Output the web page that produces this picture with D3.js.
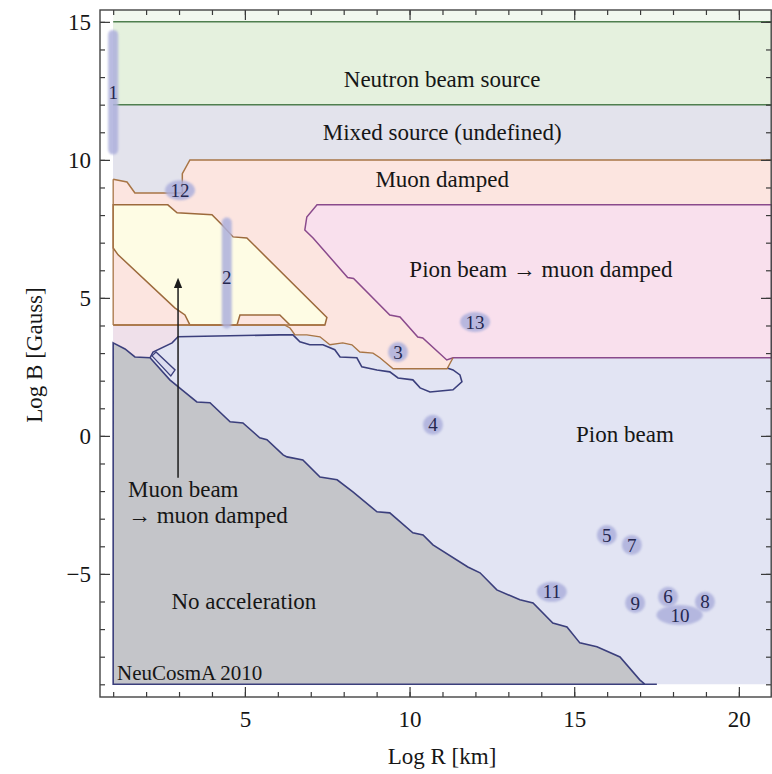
<!DOCTYPE html>
<html lang="en">
<head>
<meta charset="utf-8">
<title>NeuCosmA source classification (Log R vs Log B)</title>
<style>
  body { margin: 0; background: #fff; }
  text { font-family: "Liberation Serif", "Times New Roman", serif; fill: #161616; }
</style>
</head>
<body>

<svg id="chart" width="772" height="774"></svg>

<script src="https://d3js.org/d3.v7.min.js"></script>
<script>

//DATA (Log R [km], Log B [Gauss])
var xTicks = [5, 10, 15, 20];
var yTicks = [-5, 0, 5, 10, 15];
var xMinor = d3.range(1, 22);
var yMinor = d3.range(-9, 16);

//lower edge of the neutron band / plot limits
var neutronLow = 12;
var plotTop = 15;
var plotBottom = -9;
var plotLeft = 1;
var plotRight = 21;

//top edge of the muon damped region (left to right)
var muonTopEdge = [[1, 9.3], [1.42, 9.2], [1.66, 8.8], [2.48, 8.8], [3.1, 8.8], [3.1, 9.5], [3.33, 10], [21, 10]];
//lower edge of the muon damped region (right to left)
var muonBottomEdge = [[21, 2.83], [11.32, 2.83], [11.14, 2.43], [9.5, 2.43], [9.1, 2.83], [8.89, 3.0], [8.49, 3.04],
  [8.25, 3.3], [7.97, 3.37], [7.58, 3.3], [7.28, 3.59], [6.88, 3.66], [6.52, 3.66], [6.37, 3.91], [6.2, 4.02], [1, 4.02]];

//pion beam -> muon damped region
var pionMuonEdge = [[7.19, 8.37], [21, 8.37], [21, 2.83], [11.32, 2.83], [11.13, 2.75], [10.4, 3.55], [10.25, 3.58],
  [9.71, 4.31], [9.4, 4.38], [8.3, 5.7], [8.12, 5.74], [7.07, 7.17], [6.82, 7.46], [6.88, 7.93]];

//muon beam -> muon damped region
var muonBeamEdge = [[1, 8.37], [2.66, 8.37], [2.94, 8.08], [4.0, 8.01], [4.31, 7.64], [4.64, 7.21], [5.06, 7.17],
  [7.49, 4.29], [7.43, 4.02], [6.37, 4.02], [6.06, 4.38], [4.85, 4.38], [4.76, 4.02], [3.33, 4.02], [3.18, 4.38],
  [2.87, 4.64], [1.15, 6.56], [1, 6.81]];

//small pinkish patch left of the arrow
var leftPatchEdge = [[1, 4.02], [2.97, 4.02], [2.97, 3.59], [2.79, 3.37], [2.21, 3.04], [2.12, 2.83], [1.66, 2.86],
  [1.36, 3.15], [1, 3.37]];

//upper edge of the pion beam region (navy line)
var pionTopEdge = [[2.12, 2.83], [2.21, 3.04], [2.79, 3.37], [2.97, 3.59], [6.06, 3.66], [6.46, 3.66], [6.67, 3.41],
  [6.97, 3.3], [7.37, 3.3], [7.73, 3.12], [7.89, 2.86], [8.4, 2.83], [8.55, 2.5], [9.01, 2.39], [9.4, 2.32],
  [9.65, 2.1], [10.1, 2.03], [10.32, 1.74], [10.62, 1.59], [11.32, 1.67], [11.59, 1.96], [11.53, 2.21],
  [11.32, 2.39], [11.14, 2.46]];
var pionSliver = [[2.18, 2.9], [2.3, 3.04], [2.88, 2.39], [2.75, 2.17]];

//no acceleration boundary (staircase)
var noAccelEdge = [[1, 3.37], [1.36, 3.15], [1.66, 2.86], [2.12, 2.83], [2.72, 2.03], [3.09, 1.67], [3.54, 1.23],
  [3.94, 1.2], [4.55, 0.51], [4.94, 0.47], [5.45, -0.07], [5.67, -0.14], [6.16, -0.69], [6.28, -0.76], [6.76, -0.87],
  [7.28, -1.49], [7.8, -1.59], [8.28, -2.03], [9.01, -2.75], [9.4, -2.79], [10.1, -3.51], [10.41, -3.59],
  [10.71, -3.95], [11.77, -4.75], [12.14, -4.96], [12.65, -5.58], [13.35, -5.94], [13.75, -6.05], [14.35, -6.78],
  [14.78, -6.92], [15.17, -7.5], [15.69, -7.64], [16.39, -8.01], [16.99, -8.84], [17.15, -9], [17.51, -9]];

//sources: label, Log R range, Log B range, where the number sits
var srcLabel = ["1", "2", "3", "4", "5", "6", "7", "8", "9", "10", "11", "12", "13"];
var srcR0 = [1.0, 4.45, 9.65, 10.71, 15.99, 17.85, 16.75, 18.97, 16.85, 17.95, 14.32, 3.03, 11.99];
var srcR1 = [1.0, 4.45, 9.65, 10.71, 15.99, 17.85, 16.75, 18.97, 16.85, 18.45, 14.32, 3.03, 11.99];
var srcB0 = [10.3, 4.0, 3.04, 0.4, -3.59, -5.83, -3.95, -6.01, -6.05, -6.49, -5.65, 8.9, 4.13];
var srcB1 = [14.6, 7.8, 3.04, 0.4, -3.59, -5.83, -3.95, -6.01, -6.05, -6.49, -5.65, 8.9, 4.13];
var srcTextR = [1.0, 4.45, 9.65, 10.71, 15.99, 17.85, 16.75, 18.97, 16.85, 18.21, 14.32, 3.03, 11.99];
var srcTextB = [12.43, 5.76, 3.04, 0.4, -3.59, -5.83, -3.95, -6.01, -6.05, -6.49, -5.65, 8.9, 4.13];

//region names
var regionText = ["Neutron beam source", "Mixed source (undefined)", "Muon damped", "Pion beam \u2192 muon damped",
  "Pion beam", "Muon beam", "\u2192 muon damped", "No acceleration"];
var regionR = [10.99, 10.99, 10.99, 13.99, 16.54, 1.45, 1.45, 4.97];
var regionB = [12.64, 10.72, 9.02, 5.76, -0.22, -2.21, -3.16, -6.27];
var regionAnchor = ["middle", "middle", "middle", "middle", "middle", "start", "start", "middle"];

//arrow from the muon beam label up into its region
var arrowR = 2.97;
var arrowB = [-1.52, 5.54];

//COLOURS
var C_PION = "#e2e4f3", C_NEUTRON = "#e5f1de", C_MIXED = "#e3e3ec", C_MUON = "#fce5e0";
var C_PIONMU = "#f9e0ed", C_YELLOW = "#fefce4", C_GRAY = "#c4c5c9", C_PATCH = "#efe0ea";
var L_GREEN = "#4f7f4f", L_BROWN = "#a87545", L_PURPLE = "#8a4a8c", L_NAVY = "#3b3f7c";

//SCALES (frame covers a little padding round the data)
var svg = d3.select("#chart");
var x = d3.scaleLinear().domain([0.6, 21]).range([100, 771.8]);
var y = d3.scaleLinear().domain([-9.46, 15.43]).range([697, 10]);

var line = d3.line().x(function (d) { return x(d[0]); }).y(function (d) { return y(d[1]); });
var ring = function (pts) { return line(pts) + "Z"; };

var defs = svg.append("defs");
defs.append("filter").attr("id", "soft").attr("x", "-50%").attr("y", "-50%").attr("width", "200%").attr("height", "200%")
  .append("feGaussianBlur").attr("stdDeviation", 1.3);
defs.append("marker").attr("id", "head").attr("viewBox", "0 0 10 10").attr("refX", 5).attr("refY", 5)
  .attr("markerWidth", 7).attr("markerHeight", 9).attr("orient", "auto")
  .append("path").attr("d", "M0,1 L10,5 L0,9 Z").attr("fill", "#1c1c1c");

//REGIONS
var box = function (r0, r1, b0, b1) { return [[r0, b0], [r1, b0], [r1, b1], [r0, b1]]; };

svg.append("path").attr("d", ring(box(plotLeft, plotRight, plotBottom, plotTop))).attr("fill", C_PION);
svg.append("path").attr("d", ring(box(plotLeft, plotRight, plotTop, 15.43))).attr("fill", "#f2f8ef");
svg.append("path").attr("d", ring(box(plotLeft, plotRight, neutronLow, plotTop))).attr("fill", C_NEUTRON);
svg.append("path").attr("d", ring(box(plotLeft, plotRight, 4, neutronLow))).attr("fill", C_MIXED);
svg.append("path").attr("d", ring(muonTopEdge.concat(muonBottomEdge))).attr("fill", C_MUON);
svg.append("path").attr("d", ring(leftPatchEdge)).attr("fill", C_PATCH);
svg.append("path").attr("d", ring(pionMuonEdge)).attr("fill", C_PIONMU)
  .attr("stroke", L_PURPLE).attr("stroke-width", 1.5);
svg.append("path").attr("d", ring(muonBeamEdge)).attr("fill", C_YELLOW)
  .attr("stroke", "#9c6a3c").attr("stroke-width", 1.5);
svg.append("path").attr("d", ring(noAccelEdge.concat([[plotLeft, plotBottom]]))).attr("fill", C_GRAY)
  .attr("stroke", L_NAVY).attr("stroke-width", 1.6);

//boundary lines
svg.append("path").attr("d", line(pionTopEdge)).attr("fill", "none").attr("stroke", L_NAVY).attr("stroke-width", 1.6);
svg.append("path").attr("d", ring(pionSliver)).attr("fill", "#dcdcef").attr("stroke", L_NAVY).attr("stroke-width", 1.3);
svg.append("path").attr("d", line(muonTopEdge)).attr("fill", "none").attr("stroke", L_BROWN).attr("stroke-width", 1.5);
svg.append("path").attr("d", line(muonBottomEdge.slice(1))).attr("fill", "none").attr("stroke", L_BROWN).attr("stroke-width", 1.4);
svg.append("path").attr("d", line([[plotLeft, 4.02], [7.43, 4.02]])).attr("fill", "none").attr("stroke", L_BROWN).attr("stroke-width", 1.4);
svg.append("path").attr("d", line([[plotLeft, 9.3], [plotLeft, 4.02]])).attr("fill", "none").attr("stroke", L_BROWN).attr("stroke-width", 1.3);
svg.append("path").attr("d", line([[plotLeft, neutronLow], [plotRight, neutronLow]])).attr("stroke", L_GREEN).attr("stroke-width", 1.5);
svg.append("path").attr("d", line([[plotLeft, plotTop], [plotRight, plotTop]])).attr("stroke", L_GREEN).attr("stroke-width", 1.5);

//arrow
svg.append("line")
  .attr("x1", x(arrowR)).attr("y1", y(arrowB[0]))
  .attr("x2", x(arrowR)).attr("y2", y(arrowB[1]))
  .attr("stroke", "#1c1c1c").attr("stroke-width", 1.5).attr("marker-end", "url(#head)");

//SOURCES
srcLabel.forEach(function (lab, i) {
  var cx = x((srcR0[i] + srcR1[i]) / 2), cy = y((srcB0[i] + srcB1[i]) / 2);
  var halfW = (x(srcR1[i]) - x(srcR0[i])) / 2, halfH = (y(srcB0[i]) - y(srcB1[i])) / 2;
  var rx, ry;
  if (halfH > 20) { rx = 5; ry = halfH + 3; }          //vertical range bar
  else { rx = halfW + 5 + 5 * lab.length; ry = 10 + halfH; }
  svg.append("rect").attr("x", cx - rx).attr("y", cy - ry).attr("width", 2 * rx).attr("height", 2 * ry)
    .attr("rx", rx).attr("ry", Math.min(rx, ry))
    .attr("fill", "#adb0dc").attr("opacity", 0.85).attr("filter", "url(#soft)");
  svg.append("text").attr("x", x(srcTextR[i])).attr("y", y(srcTextB[i])).attr("dy", "0.35em")
    .attr("text-anchor", "middle").style("font-size", "19px").style("fill", "#25274f").text(lab);
});

//REGION NAMES
regionText.forEach(function (t, i) {
  svg.append("text").attr("x", x(regionR[i])).attr("y", y(regionB[i]))
    .attr("text-anchor", regionAnchor[i]).style("font-size", "23px").text(t);
});
svg.append("text").attr("x", x(1.12)).attr("y", y(-8.84)).style("font-size", "21px").text("NeuCosmA 2010");

//FRAME AND TICKS (ticks point inward on all four sides)
function strip(g) { g.select(".domain").remove(); g.selectAll("line").attr("stroke", "#3a3a3a").attr("stroke-width", 1.2); }

svg.append("g").attr("transform", "translate(0,697)")
  .call(d3.axisBottom(x).tickValues(xMinor).tickSize(-5).tickFormat("")).call(strip);
svg.append("g").attr("transform", "translate(0,697)")
  .call(d3.axisBottom(x).tickValues(xTicks).tickSize(-10).tickPadding(14)).call(strip)
  .selectAll("text").style("font-size", "23px").style("font-family", "Liberation Serif").attr("fill", "#1c1c1c");
svg.append("g").attr("transform", "translate(0,10)")
  .call(d3.axisTop(x).tickValues(xMinor).tickSize(-5).tickFormat("")).call(strip);
svg.append("g").attr("transform", "translate(0,10)")
  .call(d3.axisTop(x).tickValues(xTicks).tickSize(-10).tickFormat("")).call(strip);

svg.append("g").attr("transform", "translate(100,0)")
  .call(d3.axisLeft(y).tickValues(yMinor).tickSize(-5).tickFormat("")).call(strip);
svg.append("g").attr("transform", "translate(100,0)")
  .call(d3.axisLeft(y).tickValues(yTicks).tickSize(-10).tickPadding(9)).call(strip)
  .selectAll("text").style("font-size", "23px").style("font-family", "Liberation Serif").attr("fill", "#1c1c1c");
svg.append("g").attr("transform", "translate(771,0)")
  .call(d3.axisRight(y).tickValues(yMinor).tickSize(-5).tickFormat("")).call(strip);
svg.append("g").attr("transform", "translate(771,0)")
  .call(d3.axisRight(y).tickValues(yTicks).tickSize(-10).tickFormat("")).call(strip);

svg.append("rect").attr("x", 100).attr("y", 10).attr("width", 671.2).attr("height", 687)
  .attr("fill", "none").attr("stroke", "#444").attr("stroke-width", 1.4);

//axis titles
svg.append("text").attr("x", 442).attr("y", 764).attr("text-anchor", "middle").style("font-size", "23px").text("Log R [km]");
svg.append("text").attr("transform", "translate(42,355) rotate(-90)").attr("text-anchor", "middle")
  .style("font-size", "23px").text("Log B [Gauss]");

</script>
</body>
</html>
